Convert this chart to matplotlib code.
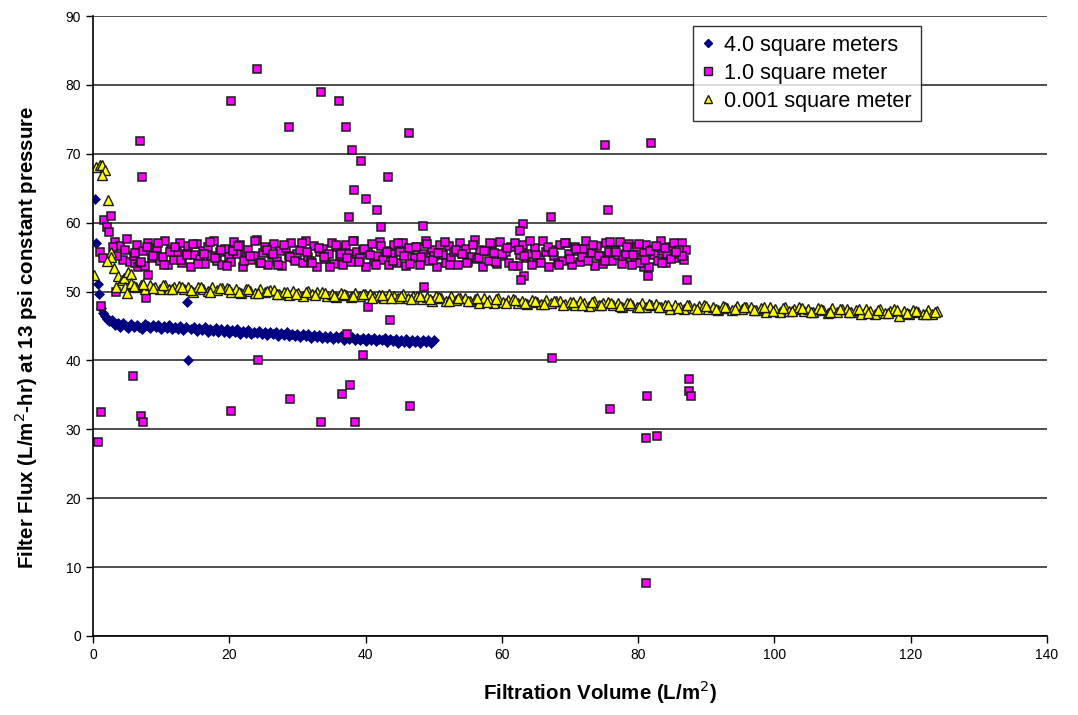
import matplotlib
matplotlib.use("Agg")
import matplotlib.pyplot as plt
from matplotlib.lines import Line2D

plt.rcParams['font.family'] = ['Liberation Sans', 'DejaVu Sans']

# 4.0 square meters (navy diamonds)
s1_x = [0.3, 0.5, 0.8, 0.9, 13.8, 14.0,
        1.2, 1.5, 1.8, 2.1, 2.4, 2.8, 3.2, 3.6, 4.0, 4.4,
        4.8, 5.2, 5.6, 6.0, 6.4, 6.8, 7.2, 7.6, 8.0, 8.4,
        8.8, 9.2, 9.6, 10.0, 10.4, 10.8, 11.2, 11.6, 12.0, 12.4,
        12.8, 13.2, 13.6, 14.4, 14.8, 15.2, 15.6, 16.0, 16.4, 16.8,
        17.2, 17.6, 18.0, 18.4, 18.8, 19.2, 19.6, 20.0, 20.4, 20.8,
        21.2, 21.6, 22.0, 22.4, 22.8, 23.2, 23.6, 24.0, 24.4, 24.8,
        25.2, 25.6, 26.0, 26.4, 26.8, 27.2, 27.6, 28.0, 28.4, 28.8,
        29.2, 29.6, 30.0, 30.4, 30.8, 31.2, 31.6, 32.0, 32.4, 32.8,
        33.2, 33.6, 34.0, 34.4, 34.8, 35.2, 35.6, 36.0, 36.4, 36.8,
        37.2, 37.6, 38.0, 38.4, 38.8, 39.2, 39.6, 40.0, 40.4, 40.8,
        41.2, 41.6, 42.0, 42.4, 42.8, 43.2, 43.6, 44.0, 44.4, 44.8,
        45.2, 45.6, 46.0, 46.4, 46.8, 47.2, 47.6, 48.0, 48.4, 48.8,
        49.2, 49.6, 50.0]
s1_y = [63.4, 57.1, 51.1, 49.6, 48.5, 40.0,
        47.6, 46.9, 46.4, 46.0, 45.7, 45.9, 45.2, 45.5, 44.9, 45.4,
        45.0, 44.7, 45.3, 44.8, 45.2, 44.9, 44.6, 45.3, 45.0, 44.7,
        45.2, 44.8, 45.1, 44.6, 45.0, 44.7, 45.2, 44.5, 44.9, 44.6,
        45.0, 44.4, 44.8, 44.5, 44.9, 44.3, 44.7, 44.4, 44.8, 44.2,
        44.6, 44.3, 44.7, 44.1, 44.5, 44.2, 44.6, 44.0, 44.4, 44.1,
        44.5, 43.9, 44.3, 44.0, 44.4, 43.8, 44.2, 44.0, 44.3, 43.8,
        44.2, 43.7, 44.1, 43.9, 44.2, 43.6, 44.0, 43.7, 44.1, 43.5,
        43.9, 43.6, 43.9, 43.4, 43.8, 43.5, 43.8, 43.3, 43.7, 43.4,
        43.7, 43.2, 43.6, 43.3, 43.6, 43.1, 43.5, 43.2, 43.5, 43.0,
        43.4, 43.1, 43.4, 42.9, 43.3, 43.0, 43.3, 42.8, 43.2, 42.9,
        43.2, 42.8, 43.1, 42.9, 43.2, 42.7, 43.1, 42.8, 43.1, 42.6,
        43.0, 42.7, 43.1, 42.6, 43.0, 42.7, 43.0, 42.6, 42.9, 42.7,
        43.0, 42.6, 42.9]

# 1.0 square meter (magenta squares): scattered points, then the main cloud
s2_x = [0.7, 1.2, 1.1, 3.4, 5.9, 7.0, 7.4, 7.8, 6.9, 7.2,
        20.3, 24.2, 24.0, 20.3, 28.8, 33.4, 36.1, 37.1, 38.0, 39.4,
        46.4, 43.3, 38.3, 40.1, 41.7, 37.6, 42.2, 48.4, 63.1, 62.6,
        48.6, 40.3, 43.6, 37.3, 39.6, 37.7, 36.5, 28.9, 46.5, 33.5,
        38.4, 63.3, 62.8, 75.6, 67.2, 87.2, 67.4, 87.4, 87.5, 87.7,
        81.3, 75.8, 81.1, 82.7, 81.1, 75.1, 81.9, 80.9, 81.5,
        1.6, 2.7, 2.0, 2.4, 3.2, 3.9, 5.0, 4.7, 1.0, 1.5,
        4.4, 5.4, 6.1, 6.6, 8.1, 2.9, 3.5,
        6.0, 6.4, 6.9, 7.3, 7.7, 8.1, 8.6, 9.0, 9.4, 9.8,
        10.2, 10.6, 11.0, 11.5, 11.9, 12.3, 12.7, 13.1, 13.6, 14.0,
        14.4, 14.8, 15.2, 15.7, 16.1, 16.5, 16.9, 17.3, 17.8, 18.2,
        18.6, 19.0, 19.4, 19.9, 20.3, 20.7, 21.1, 21.5, 22.0, 22.4,
        22.8, 23.2, 23.6, 24.1, 24.5, 24.9, 25.3, 25.7, 26.2, 26.6,
        27.0, 27.4, 27.8, 28.3, 28.7, 29.1, 29.5, 29.9, 30.4, 30.8,
        31.2, 31.6, 32.0, 32.5, 32.9, 33.3, 33.7, 34.1, 34.6, 35.0,
        35.4, 35.8, 36.2, 36.7, 37.1, 37.5, 37.9, 38.3, 38.8, 39.2,
        39.6, 40.0, 40.4, 40.9, 41.3, 41.7, 42.1, 42.5, 43.0, 43.4,
        43.8, 44.2, 44.6, 45.1, 45.5, 45.9, 46.3, 46.7, 47.2, 47.6,
        48.0, 48.4, 48.8, 49.3, 49.7, 50.1, 50.5, 50.9, 51.4, 51.8,
        52.2, 52.6, 53.0, 53.5, 53.9, 54.3, 54.7, 55.1, 55.6, 56.0,
        56.4, 56.8, 57.2, 57.7, 58.1, 58.5, 58.9, 59.3, 59.8, 60.2,
        60.6, 61.0, 61.4, 61.9, 62.3, 62.7, 63.1, 63.5, 64.0, 64.4,
        64.8, 65.2, 65.6, 66.1, 66.5, 66.9, 67.3, 67.7, 68.2, 68.6,
        69.0, 69.4, 69.8, 70.3, 70.7, 71.1, 71.5, 71.9, 72.4, 72.8,
        73.2, 73.6, 74.0, 74.5, 74.9, 75.3, 75.7, 76.1, 76.6, 77.0,
        77.4, 77.8, 78.2, 78.7, 79.1, 79.5, 79.9, 80.3, 80.8, 81.2,
        81.6, 82.0, 82.4, 82.9, 83.3, 83.7, 84.1, 84.5, 85.0, 85.4,
        85.8, 86.1, 86.4, 86.7, 87.0,
        6.2, 7.0, 7.9, 8.8, 9.6, 10.4, 11.3, 12.1, 12.9, 13.8,
        14.6, 15.4, 16.3, 17.1, 17.9, 18.8, 19.6, 20.5, 21.3, 22.2,
        23.0, 23.8, 24.7, 25.5, 26.4, 27.2, 28.0, 28.9, 29.7, 30.6,
        31.4, 32.2, 33.1, 33.9, 34.8, 35.6, 36.4, 37.3, 38.1, 39.0,
        39.8, 40.6, 41.5, 42.3, 43.2, 44.0, 44.8, 45.7, 46.5, 47.4,
        48.2, 49.0, 49.9, 50.7, 51.6, 52.4, 53.2, 54.1, 54.9, 55.8,
        56.6, 57.4, 58.3, 59.1, 60.0, 60.8, 61.6, 62.5, 63.3, 64.2,
        65.0, 65.8, 66.7, 67.5, 68.4, 69.2, 70.0, 70.9, 71.7, 72.6,
        73.4, 74.2, 75.1, 75.9, 76.8, 77.6, 78.4, 79.3, 80.1, 81.0,
        81.8, 82.6, 83.5, 84.3, 85.2, 86.0, 86.5, 84.8, 83.9, 85.6]
s2_y = [28.1, 32.5, 47.9, 50.0, 37.7, 31.9, 31.0, 49.0, 71.8, 66.6,
        32.7, 40.1, 82.3, 77.6, 73.9, 79.0, 77.6, 73.9, 70.6, 68.9,
        73.0, 66.6, 64.8, 63.4, 61.9, 60.8, 59.3, 59.5, 59.8, 58.8,
        50.7, 47.8, 45.9, 43.8, 40.8, 36.5, 35.1, 34.4, 33.4, 31.0,
        31.0, 52.2, 51.7, 61.9, 60.8, 51.7, 40.4, 37.3, 35.6, 34.8,
        34.8, 33.0, 28.7, 29.1, 7.7, 71.3, 71.6, 53.5, 52.3,
        60.4, 61.0, 59.3, 58.6, 57.2, 56.6, 57.6, 56.0, 55.8, 54.8,
        54.6, 54.3, 54.2, 53.6, 52.4, 56.5, 55.2,
        55.2, 56.8, 54.1, 55.9, 53.7, 57.1, 54.8, 55.6, 56.3, 54.4,
        55.0, 57.3, 53.9, 56.1, 54.6, 55.8, 57.0, 54.2, 55.5, 56.6,
        53.6, 55.3, 56.9, 54.7, 55.9, 54.0, 56.4, 55.1, 57.4, 54.5,
        55.7, 53.8, 56.2, 55.0, 54.3, 57.2, 55.4, 56.7, 53.5, 55.8,
        56.0, 54.6, 55.2, 57.5, 54.1, 55.6, 56.5, 53.9, 55.3, 56.9,
        54.4, 55.9, 53.7, 56.3, 55.1, 57.0, 54.8, 55.5, 56.1, 54.2,
        57.3, 55.0, 54.5, 56.6, 53.6, 55.8, 56.2, 54.7, 55.4, 57.1,
        54.0, 56.4, 55.2, 53.8, 56.8, 55.5, 54.3, 57.4, 55.7, 54.9,
        56.1, 53.5, 55.6, 56.9, 54.4, 55.1, 57.2, 54.6, 55.9, 53.9,
        55.4, 56.7, 54.2, 55.8, 57.0, 53.7, 56.3, 55.0, 54.8, 56.5,
        53.8, 55.5, 57.3, 54.5, 56.0, 55.2, 53.6, 56.8, 55.3, 54.1,
        56.6, 54.9, 55.7, 53.9, 57.1, 55.4, 56.2, 54.3, 55.0, 57.5,
        54.7, 56.1, 53.5, 55.9, 54.4, 56.9, 55.6, 54.0, 57.2, 55.1,
        55.8, 54.2, 56.4, 57.0, 53.7, 55.3, 56.7, 54.8, 55.5, 53.9,
        56.3, 55.0, 54.6, 57.4, 55.7, 53.6, 56.0, 55.2, 54.1, 56.8,
        54.5, 57.1, 55.4, 53.8, 56.5, 55.9, 54.3, 56.2, 57.3, 54.9,
        55.6, 53.7, 56.6, 55.1, 54.0, 57.0, 55.8, 54.4, 56.1, 55.3,
        57.2, 54.7, 55.5, 56.9, 53.9, 55.0, 56.4, 54.2, 55.7, 56.7,
        53.6, 56.0, 55.3, 54.5, 57.3, 55.9, 54.1, 56.5, 55.2, 54.8,
        56.2, 55.4, 57.1, 54.6, 56.0,
        55.6, 54.3, 56.4, 55.1, 57.0, 53.9, 55.8, 56.5, 54.6, 55.3,
        56.9, 54.0, 55.5, 57.2, 54.8, 56.1, 53.7, 55.9, 56.6, 54.4,
        55.2, 57.4, 54.1, 56.0, 55.4, 53.8, 56.7, 55.0, 54.5, 57.1,
        55.7, 54.2, 56.3, 55.0, 53.6, 56.8, 55.5, 54.9, 57.3, 54.3,
        56.2, 55.3, 53.9, 56.6, 55.8, 54.5, 57.0, 55.1, 54.0, 56.4,
        55.0, 56.9, 54.6, 55.6, 57.2, 53.8, 56.1, 55.4, 54.2, 56.7,
        54.8, 55.9, 57.1, 54.3, 55.5, 56.3, 53.7, 56.0, 55.2, 57.4,
        55.3, 54.1, 56.5, 55.8, 53.9, 57.0, 54.7, 56.2, 55.0, 54.5,
        56.8, 55.1, 54.4, 57.2, 55.7, 54.0, 56.4, 55.3, 56.9, 54.6,
        55.9, 56.6, 54.2, 55.5, 57.1, 56.0, 55.2, 54.7, 56.3, 55.8]

# 0.001 square meter (yellow triangles): start-up points, then the band
s3_x = [0.2, 0.5, 1.0, 1.3, 1.8, 1.3, 2.2, 2.6, 2.7, 3.1,
        3.6, 3.4, 4.2, 4.6, 5.1, 5.6, 4.7, 5.0, 2.0,
        5.6, 6.3, 7.0, 7.7, 8.4, 9.1, 9.8, 10.5, 11.2, 11.9,
        12.6, 13.3, 14.0, 14.7, 15.4, 16.1, 16.8, 17.5, 18.2, 18.9,
        19.6, 20.3, 21.0, 21.7, 22.4, 23.1, 23.8, 24.5, 25.2, 25.9,
        26.6, 27.3, 28.0, 28.7, 29.4, 30.1, 30.8, 31.5, 32.2, 32.9,
        33.6, 34.3, 35.0, 35.7, 36.4, 37.1, 37.8, 38.5, 39.2, 39.9,
        40.6, 41.3, 42.0, 42.7, 43.4, 44.1, 44.8, 45.5, 46.2, 46.9,
        47.6, 48.3, 49.0, 49.7, 50.4, 51.1, 51.8, 52.5, 53.2, 53.9,
        54.6, 55.3, 56.0, 56.7, 57.4, 58.1, 58.8, 59.5, 60.2, 60.9,
        61.6, 62.3, 63.0, 63.7, 64.4, 65.1, 65.8, 66.5, 67.2, 67.9,
        68.6, 69.3, 70.0, 70.7, 71.4, 72.1, 72.8, 73.5, 74.2, 74.9,
        75.6, 76.3, 77.0, 77.7, 78.4, 79.1, 79.8, 80.5, 81.2, 81.9,
        82.6, 83.3, 84.0, 84.7, 85.4, 86.1, 86.8, 87.5, 88.2, 88.9,
        89.6, 90.3, 91.0, 91.7, 92.4, 93.1, 93.8, 94.5, 95.2, 95.9,
        96.6, 97.3, 98.0, 98.7, 99.4, 100.1, 100.8, 101.5, 102.2, 102.9,
        103.6, 104.3, 105.0, 105.7, 106.4, 107.1, 107.8, 108.5, 109.2, 109.9,
        110.6, 111.3, 112.0, 112.7, 113.4, 114.1, 114.8, 115.5, 116.2, 116.9,
        117.6, 118.3, 119.0, 119.7, 120.4, 121.1, 121.8, 122.5, 123.2, 123.9,
        6.0, 7.4, 8.8, 10.2, 11.6, 13.0, 14.4, 15.8, 17.2, 18.6,
        20.0, 21.4, 22.8, 24.2, 25.6, 27.0, 28.4, 29.8, 31.2, 32.6,
        34.0, 35.4, 36.8, 38.2, 39.6, 41.0, 42.4, 43.8, 45.2, 46.6,
        48.0, 49.4, 50.8, 52.2, 53.6, 55.0, 56.4, 57.8, 59.2, 60.6,
        62.0, 63.4, 64.8, 66.2, 67.6, 69.0, 70.4, 71.8, 73.2, 74.6,
        76.0, 77.4, 78.8, 80.2, 81.6, 83.0, 84.4, 85.8, 87.2, 88.6,
        90.0, 91.4, 92.8, 94.2, 95.6, 97.0, 98.4, 99.8, 101.2, 102.6,
        104.0, 105.4, 106.8, 108.2, 109.6, 111.0, 112.4, 113.8, 115.2, 116.6,
        118.0, 119.4, 120.8, 122.2, 123.6]
s3_y = [52.4, 68.1, 68.4, 68.4, 67.6, 66.9, 63.3, 55.8, 55.0, 53.4,
        52.2, 50.7, 51.7, 52.0, 52.9, 52.6, 50.7, 49.8, 54.5,
        51.3, 50.7, 51.0, 50.4, 50.9, 50.7, 50.3, 51.0, 50.4, 50.7,
        50.8, 50.3, 50.6, 50.0, 50.6, 50.4, 50.1, 50.7, 50.2, 50.5,
        50.5, 50.0, 50.3, 49.8, 50.3, 50.1, 49.8, 50.4, 49.9, 50.2,
        50.2, 49.7, 50.0, 49.5, 50.1, 49.8, 49.4, 50.1, 49.6, 49.9,
        49.9, 49.4, 49.7, 49.2, 49.8, 49.5, 49.2, 49.8, 49.3, 49.6,
        49.7, 49.2, 49.5, 49.0, 49.6, 49.3, 49.0, 49.6, 49.1, 49.4,
        49.4, 48.9, 49.2, 48.7, 49.3, 49.0, 48.6, 49.3, 48.8, 49.1,
        49.1, 48.6, 48.9, 48.4, 49.0, 48.8, 48.4, 49.0, 48.5, 48.8,
        48.9, 48.4, 48.7, 48.2, 48.8, 48.5, 48.2, 48.8, 48.3, 48.6,
        48.7, 48.2, 48.5, 48.0, 48.6, 48.3, 47.9, 48.6, 48.1, 48.4,
        48.5, 48.0, 48.3, 47.7, 48.3, 48.1, 47.7, 48.3, 47.8, 48.1,
        48.2, 47.7, 48.0, 47.5, 48.1, 47.8, 47.5, 48.1, 47.6, 47.9,
        48.0, 47.5, 47.8, 47.3, 47.9, 47.6, 47.3, 47.9, 47.4, 47.7,
        47.8, 47.3, 47.6, 47.1, 47.7, 47.5, 47.1, 47.7, 47.2, 47.5,
        47.7, 47.2, 47.5, 47.0, 47.6, 47.3, 46.9, 47.6, 47.1, 47.4,
        47.5, 47.0, 47.3, 46.8, 47.4, 47.2, 46.8, 47.4, 46.9, 47.2,
        47.4, 46.4, 47.2, 46.7, 47.3, 47.0, 46.7, 47.3, 46.8, 47.2,
        50.8, 51.1, 50.5, 50.9, 50.3, 50.7, 50.2, 50.6, 50.0, 50.5,
        50.4, 49.9, 50.3, 49.8, 50.1, 49.6, 50.0, 49.6, 49.9, 49.5,
        49.8, 49.4, 49.7, 49.3, 49.6, 49.1, 49.5, 49.1, 49.4, 48.9,
        49.3, 48.9, 49.2, 48.7, 49.1, 48.6, 49.0, 48.5, 48.9, 48.4,
        48.8, 48.4, 48.7, 48.2, 48.6, 48.1, 48.5, 48.1, 48.5, 48.0,
        48.4, 47.9, 48.3, 47.8, 48.2, 47.7, 48.1, 47.6, 48.0, 47.5,
        47.9, 47.5, 47.8, 47.4, 47.7, 47.3, 47.7, 47.2, 47.6, 47.2,
        47.6, 47.1, 47.5, 47.1, 47.5, 47.0, 47.4, 46.9, 47.3, 46.9,
        47.3, 46.9, 47.2, 46.8, 47.1]

x_ticks = [0, 20, 40, 60, 80, 100, 120, 140]
y_ticks = [0, 10, 20, 30, 40, 50, 60, 70, 80, 90]
labels = ['4.0 square meters', '1.0 square meter', '0.001 square meter']

fig = plt.figure(figsize=(10.78, 7.15), dpi=100)
ax = fig.add_axes([0.0863, 0.1105, 0.8849, 0.8671])

ax.plot(s1_x, s1_y, linestyle='none', marker='D', markersize=5.3,
        markerfacecolor='#000080', markeredgecolor='#000080', markeredgewidth=0.5)
ax.plot(s2_x, s2_y, linestyle='none', marker='s', markersize=6.4,
        markerfacecolor='#FF00FF', markeredgecolor='#1a1a1a', markeredgewidth=1.1)
ax.plot(s3_x, s3_y, linestyle='none', marker='^', markersize=7.2,
        markerfacecolor='#FFFF00', markeredgecolor='#1a1a1a', markeredgewidth=1.0)

ax.set_xlim(0, 140)
ax.set_ylim(0, 90)
ax.set_xticks(x_ticks)
ax.set_yticks(y_ticks)
ax.tick_params(direction='out', length=5, width=1, labelsize=10, colors='black')
ax.yaxis.grid(True, color='#404040', linewidth=1.3)
ax.set_axisbelow(True)
for side in ['top', 'right']:
    ax.spines[side].set_visible(False)
for side in ['left', 'bottom']:
    ax.spines[side].set_color('black')
    ax.spines[side].set_linewidth(1.2)

ax.set_xlabel('Filtration Volume (L/m$^2$)', fontsize=14.8, fontweight='bold')
ax.set_ylabel('Filter Flux (L/m$^2$-hr) at 13 psi constant pressure',
              fontsize=14.8, fontweight='bold')
ax.xaxis.set_label_coords(0.532, -0.068)
ax.yaxis.set_label_coords(-0.056, 0.482)

handles = [
    Line2D([], [], linestyle='none', marker='D', markersize=4.5,
           markerfacecolor='#000080', markeredgecolor='#000080'),
    Line2D([], [], linestyle='none', marker='s', markersize=5.5,
           markerfacecolor='#FF00FF', markeredgecolor='#1a1a1a', markeredgewidth=1.0),
    Line2D([], [], linestyle='none', marker='^', markersize=6,
           markerfacecolor='#FFFF00', markeredgecolor='#1a1a1a', markeredgewidth=1.0),
]
leg = ax.legend(handles, labels, loc='upper left', bbox_to_anchor=(0.629, 0.984),
                fontsize=15.6, frameon=True, fancybox=False, shadow=False,
                handlelength=0.6, handletextpad=0.45, borderpad=0.4,
                labelspacing=0.33, borderaxespad=0)
leg.get_frame().set_edgecolor('black')
leg.get_frame().set_linewidth(1.0)

fig.savefig('out.png', dpi=100)
